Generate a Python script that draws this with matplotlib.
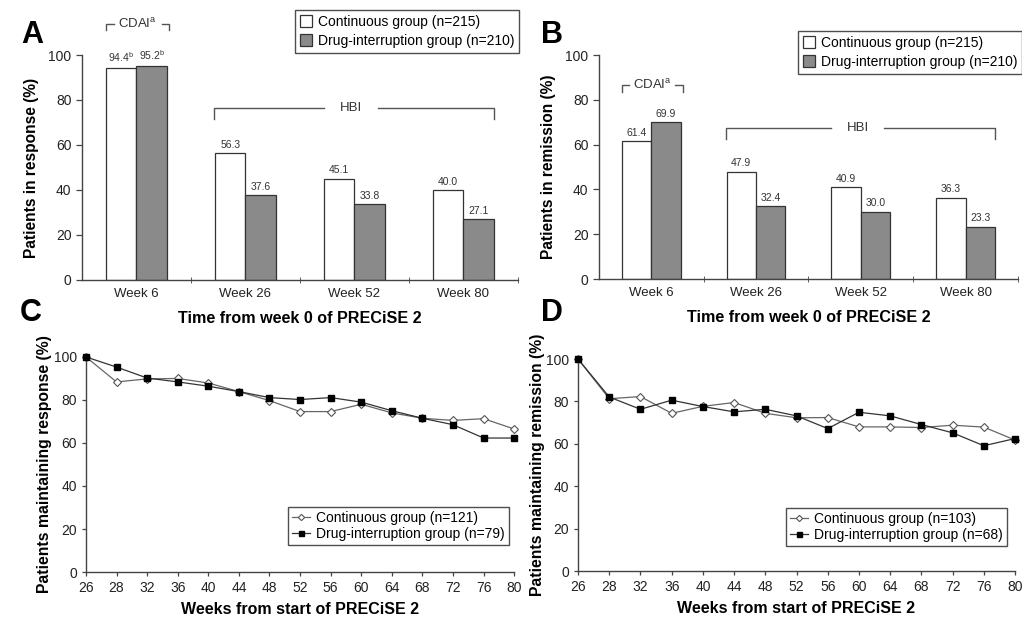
import numpy as np
import matplotlib.pyplot as plt

plt.rcParams['font.family'] = ['Liberation Sans', 'DejaVu Sans']

# данные для столбчатых диаграмм (A, B)
weeks_bar = ['Week 6', 'Week 26', 'Week 52', 'Week 80']
resp_cont = [94.4, 56.3, 45.1, 40.0]
resp_int = [95.2, 37.6, 33.8, 27.1]
remis_cont = [61.4, 47.9, 40.9, 36.3]
remis_int = [69.9, 32.4, 30.0, 23.3]

# данные для линейных графиков (C, D)
weeks_line = ['26', '28', '32', '36', '40', '44', '48', '52', '56', '60', '64', '68', '72', '76', '80']
maint_resp_cont = [100, 88.4, 89.8, 90.0, 87.9, 83.9, 79.7, 74.6, 74.6, 78.0, 74.0, 71.5, 70.5, 71.3, 66.5]
maint_resp_int = [100, 95.3, 90.2, 88.4, 86.4, 83.9, 81.1, 80.2, 81.1, 79.0, 75.0, 71.5, 68.5, 62.3, 62.3]
maint_rem_cont = [100, 81.3, 82.3, 74.4, 77.7, 79.5, 74.4, 72.3, 72.4, 68.0, 68.0, 67.7, 68.8, 67.9, 61.8]
maint_rem_int = [100, 82.1, 76.3, 80.6, 77.6, 75.1, 76.3, 73.2, 67.2, 74.9, 73.2, 69.1, 65.2, 59.1, 62.5]

AX_COL = '#444444'
GRAY = '#8a8a8a'

fig = plt.figure(figsize=(10.22, 6.18), dpi=100)


def style_axes(ax):
    for s in ['top', 'right']:
        ax.spines[s].set_visible(False)
    for s in ['left', 'bottom']:
        ax.spines[s].set_color(AX_COL)
        ax.spines[s].set_linewidth(1.0)
    ax.tick_params(colors=AX_COL, labelcolor='#222222', labelsize=10, length=4, width=0.9)


def bar_panel(rect, cont, intr, ylabel, sup, hbi_y, cdai_y):
    ax = fig.add_axes(rect)
    x = np.arange(len(weeks_bar))
    w = 0.28
    ax.bar(x - w / 2, cont, w, color='white', edgecolor='#333333', linewidth=0.9,
           label='Continuous group (n=215)')
    ax.bar(x + w / 2, intr, w, color=GRAY, edgecolor='#333333', linewidth=0.9,
           label='Drug-interruption group (n=210)')
    for i in range(len(x)):
        s = sup if i == 0 else ''
        ax.text(x[i] - w / 2, cont[i] + 1.5, f'{cont[i]:.1f}{s}', ha='center', va='bottom',
                fontsize=7.5, color='#333333')
        ax.text(x[i] + w / 2, intr[i] + 1.5, f'{intr[i]:.1f}{s}', ha='center', va='bottom',
                fontsize=7.5, color='#333333')
    ax.set_xlim(-0.5, 3.5)
    ax.set_ylim(0, 100)
    ax.set_yticks(range(0, 101, 20))
    ax.set_xticks(x)
    style_axes(ax)
    ax.set_xticklabels(weeks_bar, fontsize=9.5)
    ax.tick_params(axis='x', which='major', length=0, pad=6)
    ax.set_xticks([0.5, 1.5, 2.5, 3.5], minor=True)
    ax.tick_params(axis='x', which='minor', length=5, direction='inout', color=AX_COL)
    ax.set_ylabel(ylabel, fontsize=11.2, fontweight='bold', labelpad=7)
    ax.set_xlabel('Time from week 0 of PRECiSE 2', fontsize=11.6, fontweight='bold', labelpad=8)

    # скобка HBI
    xl, xr, d = 0.71, 3.28, 5
    ax.plot([xl, xl, 1.72], [hbi_y - d, hbi_y, hbi_y], color='#555555', lw=1)
    ax.plot([2.22, xr, xr], [hbi_y, hbi_y, hbi_y - d], color='#555555', lw=1)
    ax.text(1.97, hbi_y, 'HBI', ha='center', va='center', fontsize=9.5, color='#333333')

    # скобка CDAI
    cl, cr, dd = -0.28, 0.30, 3
    ax.plot([cl, cl, cl + 0.07], [cdai_y - dd, cdai_y, cdai_y], color='#555555', lw=1, clip_on=False)
    ax.plot([cr - 0.07, cr, cr], [cdai_y, cdai_y, cdai_y - dd], color='#555555', lw=1, clip_on=False)
    ax.text(0.01, cdai_y, r'CDAI$^{\mathregular{a}}$', ha='center', va='center', fontsize=9.5,
            color='#333333')
    return ax


def line_panel(rect, cont, intr, ylabel, lab_c, lab_i, leg_anchor):
    ax = fig.add_axes(rect)
    x = np.arange(len(weeks_line))
    ax.plot(x, cont, color='#666666', lw=0.9, marker='D', markersize=4,
            markerfacecolor='white', markeredgecolor='#555555', markeredgewidth=0.8,
            label=lab_c, clip_on=False, zorder=3)
    ax.plot(x, intr, color='#333333', lw=0.9, marker='s', markersize=4.5,
            markerfacecolor='black', markeredgecolor='black',
            label=lab_i, clip_on=False, zorder=4)
    ax.set_xlim(0, len(x) - 1)
    ax.set_ylim(0, 100)
    ax.set_yticks(range(0, 101, 20))
    ax.set_xticks(x)
    ax.set_xticklabels(weeks_line)
    style_axes(ax)
    ax.tick_params(length=3, labelsize=10)
    ax.set_ylabel(ylabel, fontsize=11.3, fontweight='bold', labelpad=1)
    ax.set_xlabel('Weeks from start of PRECiSE 2', fontsize=11.5, fontweight='bold', labelpad=5)
    leg = ax.legend(loc='upper left', bbox_to_anchor=leg_anchor, bbox_transform=fig.transFigure,
                    fontsize=10, frameon=True, fancybox=False, borderpad=0.3,
                    labelspacing=0.15, handlelength=1.3, handletextpad=0.4, borderaxespad=0,
                    markerscale=0.8)
    leg.get_frame().set_edgecolor('#222222')
    leg.get_frame().set_linewidth(1.0)
    return ax


axA = bar_panel([0.0802, 0.547, 0.4266, 0.364], resp_cont, resp_int,
                'Patients in response (%)', r'$^{\mathregular{b}}$', 76.5, 114)
axB = bar_panel([0.586, 0.5485, 0.4100, 0.3625], remis_cont, remis_int,
                'Patients in remission (%)', '', 67.5, 86.5)

for ax, anchor in [(axA, (295 / 1022, 1 - 10 / 618)), (axB, (798 / 1022, 1 - 31 / 618))]:
    leg = ax.legend(loc='upper left', bbox_to_anchor=anchor, bbox_transform=fig.transFigure,
                    fontsize=10, frameon=True, fancybox=False, borderpad=0.35,
                    labelspacing=0.35, handlelength=0.9, handleheight=0.9,
                    handletextpad=0.4, borderaxespad=0)
    leg.get_frame().set_edgecolor('#222222')
    leg.get_frame().set_linewidth(1.0)

line_panel([0.0841, 0.0744, 0.419, 0.348], maint_resp_cont, maint_resp_int,
           'Patients maintaining response (%)', 'Continuous group (n=121)',
           'Drug-interruption group (n=79)', (288 / 1022, 1 - 507 / 618))
line_panel([0.5656, 0.076, 0.4276, 0.343], maint_rem_cont, maint_rem_int,
           'Patients maintaining remission (%)', 'Continuous group (n=103)',
           'Drug-interruption group (n=68)', (786 / 1022, 1 - 508 / 618))

for lbl, xx, yy in [('A', 21, 43), ('B', 541, 43), ('C', 20, 321), ('D', 541, 321)]:
    fig.text(xx / 1022, 1 - yy / 618, lbl, fontsize=22, fontweight='bold', ha='left', va='baseline')

fig.savefig('out.png', dpi=100)
